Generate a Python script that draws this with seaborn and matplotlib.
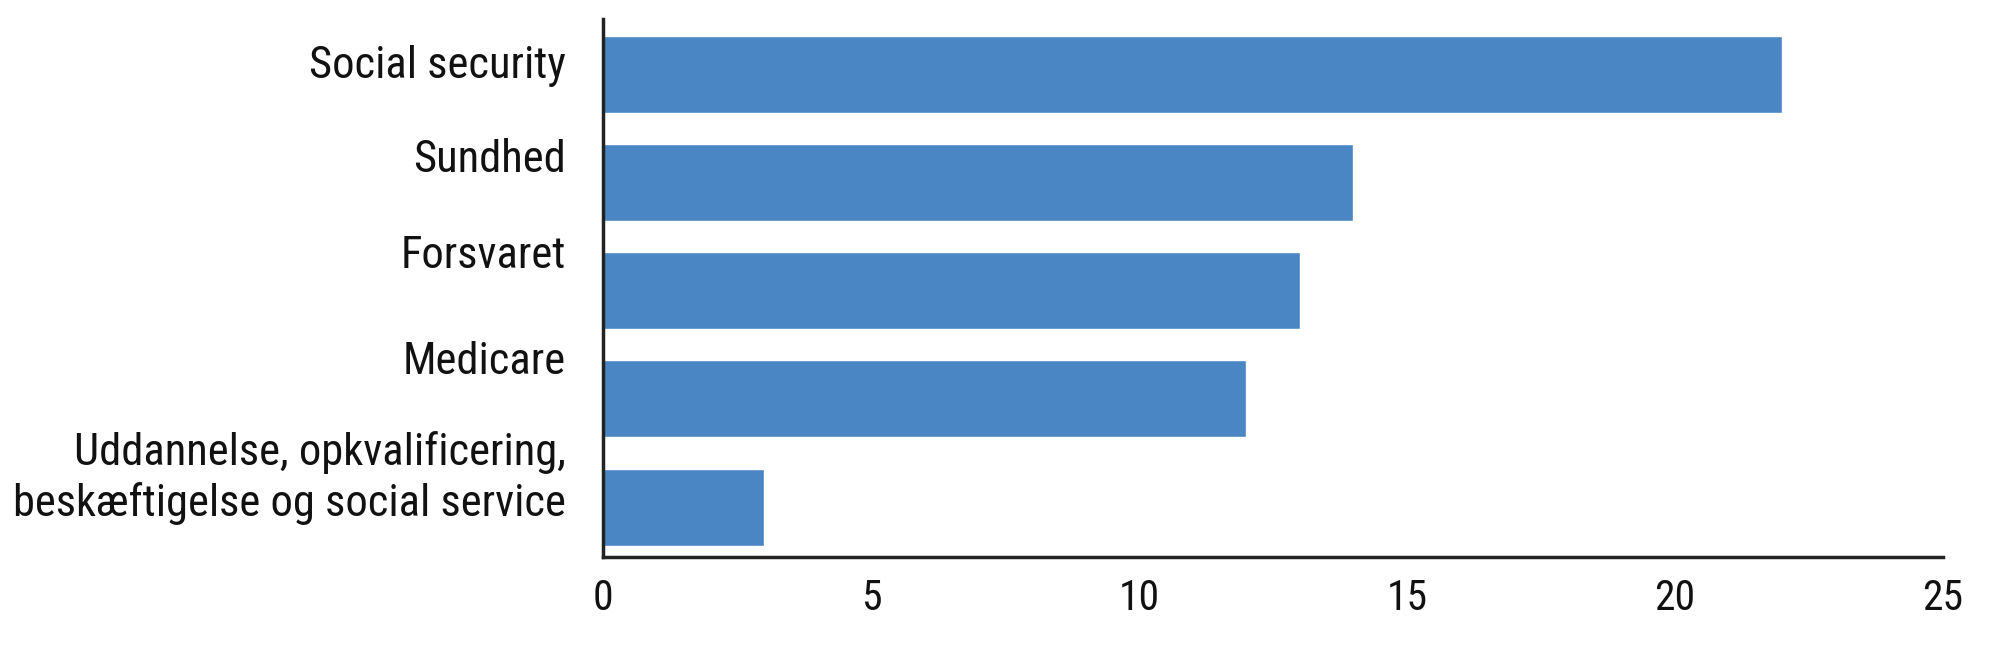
import matplotlib
matplotlib.use("Agg")
import matplotlib.pyplot as plt
import matplotlib.transforms as mtransforms
from matplotlib import font_manager
import seaborn as sns
import pandas as pd

# data
categories = ["Social security", "Sundhed", "Forsvaret", "Medicare",
              "Uddannelse, opkvalificering,\nbeskæftigelse og social service"]
values = [22, 14, 13, 12, 3]
x_ticks = [0, 5, 10, 15, 20, 25]

# the reference uses a condensed sans; pick the narrowest one we have
fonts = font_manager.fontManager.ttflist
names = {f.name for f in fonts}
wanted = ["Liberation Sans Narrow", "Roboto Condensed", "Noto Sans Condensed",
          "Open Sans Condensed", "DejaVu Sans Condensed"]
family = next((n for n in wanted if n in names), None)
stretch = "normal"
if family is None:
    narrow = sorted(n for n in names if "Narrow" in n or "Condensed" in n)
    if narrow:
        family = narrow[0]
    else:
        cond = [f for f in fonts if f.stretch in ("condensed", "semi-condensed", 75, 87)]
        if cond:
            family = cond[0].name
            stretch = cond[0].stretch
        else:
            family = "Roboto"

sns.set_style("white")
plt.rcParams['font.family'] = [family, 'DejaVu Sans']
plt.rcParams['font.stretch'] = stretch

df = pd.DataFrame({"kategori": categories, "vaerdi": values})

fig = plt.figure(figsize=(20, 6.67), dpi=100)
ax = fig.add_axes([0.3015, 0.165, 0.67, 0.8065])

sns.barplot(data=df, y="kategori", x="vaerdi", orient="h", color="#4a86c3",
            width=0.71, saturation=1, ax=ax)

ax.set_xlim(0, 25)
ax.set_ylim(4.46, -0.51)
ax.set_xticks(x_ticks)
ax.set_xlabel("")
ax.set_ylabel("")

for s in ["top", "right"]:
    ax.spines[s].set_visible(False)
for s in ["left", "bottom"]:
    ax.spines[s].set_color("#222222")
    ax.spines[s].set_linewidth(2.5)

ax.tick_params(axis="x", length=0, pad=15, labelsize=30, labelcolor="#111111")
ax.tick_params(axis="y", length=0, pad=27, labelsize=32, labelcolor="#111111")

# labels in the reference sit above the bar centres (pixels)
shifts = [13, 27, 39, 41, 38]
for lab, dy in zip(ax.get_yticklabels(), shifts):
    lab.set_linespacing(1.25)
    lab.set_transform(lab.get_transform() +
                      mtransforms.ScaledTranslation(0, dy / 100, fig.dpi_scale_trans))

fig.savefig("out.png", dpi=100)
